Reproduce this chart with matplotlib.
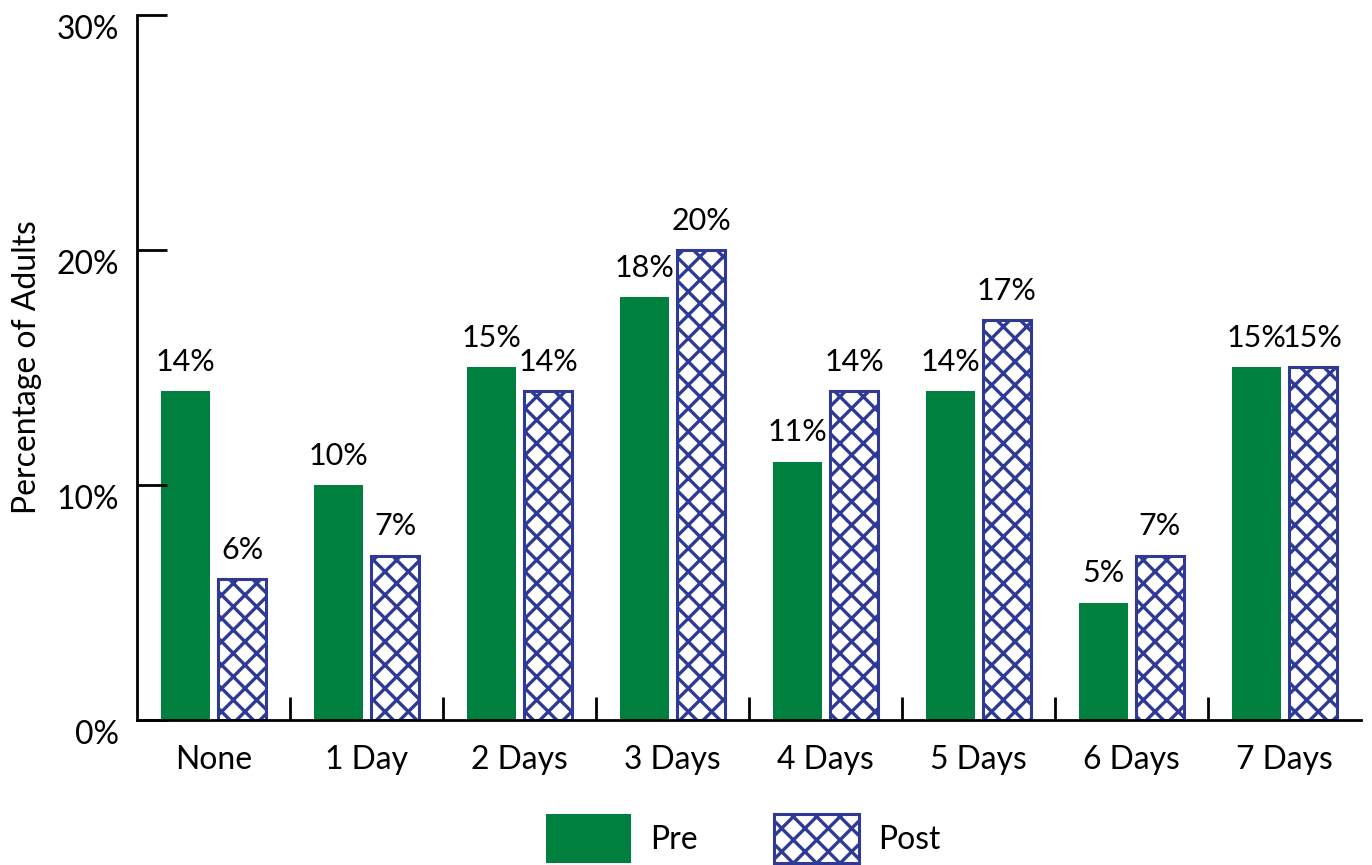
import matplotlib.pyplot as plt
import numpy as np

# figure is rendered at a low dpi so the crosshatch comes out finer;
# S converts sizes given for 100 dpi into points at this dpi
DPI = 70
S = 100 / DPI

plt.rcParams['font.family'] = ['Lato', 'DejaVu Sans']
plt.rcParams['hatch.linewidth'] = 2.4 * S

categories = ['None', '1 Day', '2 Days', '3 Days', '4 Days', '5 Days', '6 Days', '7 Days']
pre = [14, 10, 15, 18, 11, 14, 5, 15]
post = [6, 7, 14, 20, 14, 17, 7, 15]

green = '#00803f'
blue = '#2e3a94'
fs = 23 * S

fig = plt.figure(figsize=(1372 / DPI, 865 / DPI), dpi=DPI)
ax = fig.add_axes([0.0999, 0.1676, 0.8921, 0.8151])

x = np.arange(len(categories))
w = 0.32
off = 0.186

ax.bar(x - off, pre, width=w, color=green, label='Pre')
ax.bar(x + off, post, width=w, color='white', edgecolor=blue, hatch='x',
       linewidth=2.2 * S, label='Post')

for xi, v in zip(x, pre):
    ax.text(xi - off, v + 0.65, f'{v}%', ha='center', va='bottom', fontsize=22 * S)
for xi, v in zip(x, post):
    ax.text(xi + off, v + 0.65, f'{v}%', ha='center', va='bottom', fontsize=22 * S)

ax.set_xlim(-0.5, len(categories) - 0.5)
ax.set_ylim(0, 30)

ax.set_yticks([0, 10, 20, 30])
ax.set_yticklabels(['0%', '10%', '20%', '30%'], fontsize=fs)
ax.tick_params(axis='y', direction='in', length=30 * S * 0.72, width=2 * S, pad=13 * S)
for lbl in ax.get_yticklabels():
    lbl.set_verticalalignment('top')

ax.set_xticks(x)
ax.set_xticklabels(categories, fontsize=fs)
ax.tick_params(axis='x', length=0, pad=18 * S)
ax.set_xticks(np.arange(0.5, len(categories) - 0.5, 1), minor=True)
ax.tick_params(axis='x', which='minor', direction='in', length=23 * S * 0.72, width=2 * S)

ax.spines['top'].set_visible(False)
ax.spines['right'].set_visible(False)
ax.spines['left'].set_linewidth(2 * S)
ax.spines['bottom'].set_linewidth(2 * S)

ax.set_ylabel('Percentage of Adults', fontsize=fs)
ax.yaxis.set_label_coords(-0.078, 0.5)

fig.legend(loc='upper left', bbox_to_anchor=(546 / 1372, 1 - 814 / 865), ncol=2,
           frameon=False, fontsize=fs, handlelength=2.65, handleheight=2.0,
           columnspacing=2.4, handletextpad=0.6, borderpad=0, borderaxespad=0)

fig.savefig('out.png', dpi=DPI)
